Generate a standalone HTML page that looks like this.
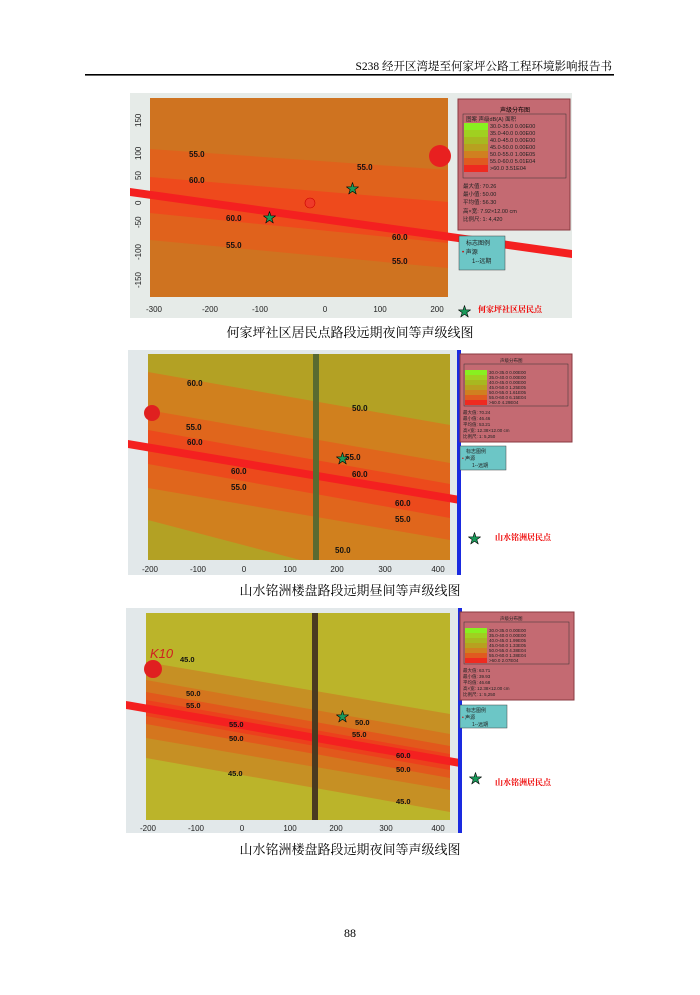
<!DOCTYPE html>
<html><head><meta charset="utf-8"><style>
body{margin:0;background:#fff;}
svg text{font-family:"Liberation Serif","Noto Serif CJK SC",serif;}
svg .s text, svg text.s{font-family:"Liberation Sans","Noto Sans CJK SC",sans-serif;}
</style></head><body>
<svg width="700" height="990" viewBox="0 0 700 990" xmlns="http://www.w3.org/2000/svg">
<rect width="700" height="990" fill="#fff"/>
<text x="612" y="70" font-size="11.5" text-anchor="end">S238 经开区湾堤至何家坪公路工程环境影响报告书</text>
<rect x="85" y="74" width="529" height="1.6" fill="#000"/>

<!-- Chart 1 -->
<rect x="130" y="93" width="442" height="225" fill="#e6ebe8"/>
<rect x="150" y="98" width="298" height="199" fill="#cf7320"/>
<polygon points="150,149 448,170 448,268 150,240" fill="#e0621c"/>
<polygon points="150,177 448,202 448,243 150,213" fill="#ee4a1c"/>
<polygon points="130,188 572,250 572,258 130,196" fill="#f42020"/>
<circle cx="440" cy="156" r="11" fill="#e82020"/>
<circle cx="310" cy="203" r="5" fill="#ee3a2a" stroke="#c00" stroke-width="0.6"/>
<g class="s" font-size="8" fill="#111" font-weight="bold">
<text x="189" y="157">55.0</text><text x="189" y="183">60.0</text><text x="226" y="221">60.0</text>
<text x="226" y="248">55.0</text><text x="357" y="170">55.0</text><text x="392" y="240">60.0</text><text x="392" y="264">55.0</text></g>
<g class="s" font-size="8" fill="#222" text-anchor="middle">
<text x="154" y="312">-300</text><text x="210" y="312">-200</text><text x="260" y="312">-100</text><text x="325" y="312">0</text><text x="380" y="312">100</text><text x="437" y="312">200</text></g>
<g class="s" font-size="8" fill="#222">
<text transform="translate(141,127) rotate(-90)">150</text><text transform="translate(141,160) rotate(-90)">100</text>
<text transform="translate(141,180) rotate(-90)">50</text><text transform="translate(141,205) rotate(-90)">0</text>
<text transform="translate(141,228) rotate(-90)">-50</text><text transform="translate(141,260) rotate(-90)">-100</text>
<text transform="translate(141,288) rotate(-90)">-150</text></g>
<text x="263" y="222" font-size="13" fill="#1a9a5a" stroke="#000" stroke-width="0.6">★</text>
<text x="346" y="193" font-size="13" fill="#1a9a5a" stroke="#000" stroke-width="0.6">★</text>
<rect x="458" y="99" width="112" height="131" fill="#c46a72" stroke="#8a3a40"/>
<text x="500" y="112" font-size="6" class="s">声级分布图</text>
<g stroke="#333" stroke-width="0.5" fill="none"><rect x="463" y="114" width="103" height="64"/></g>
<rect x="464" y="123" width="24" height="7" fill="#88f020"/><rect x="464" y="130" width="24" height="7" fill="#a0d020"/>
<rect x="464" y="137" width="24" height="7" fill="#a8b820"/><rect x="464" y="144" width="24" height="7" fill="#b8a020"/>
<rect x="464" y="151" width="24" height="7" fill="#d08020"/><rect x="464" y="158" width="24" height="7" fill="#e05a20"/>
<rect x="464" y="165" width="24" height="7" fill="#ee2a20"/>
<g class="s" font-size="5.5" fill="#222"><text x="466" y="121">图案  声级dB(A)  面积</text>
<text x="490" y="128">30.0-35.0 0.00E00</text><text x="490" y="135">35.0-40.0 0.00E00</text><text x="490" y="142">40.0-45.0 0.00E00</text>
<text x="490" y="149">45.0-50.0 0.00E00</text><text x="490" y="156">50.0-55.0 1.00E05</text><text x="490" y="163">55.0-60.0 5.01E04</text>
<text x="490" y="170">  >60.0  3.51E04</text>
<text x="463" y="188">最大值: 70.26</text><text x="463" y="196">最小值: 50.00</text><text x="463" y="204">平均值: 56.30</text>
<text x="463" y="213">高×宽: 7.92×12.00 cm</text><text x="463" y="221">比例尺: 1: 4,420</text></g>
<rect x="459" y="236" width="46" height="34" fill="#6cc6c6" stroke="#444" stroke-width="0.5"/>
<g class="s" font-size="6" fill="#222"><text x="466" y="245">标志图例</text><text x="462" y="254"><tspan fill="#c00">•</tspan> 声源</text><text x="472" y="263">1--远期</text></g>
<text x="458" y="316" font-size="13" fill="#1a9a5a" stroke="#000" stroke-width="0.6">★</text>
<text x="478" y="312" font-size="8" fill="#e00" font-weight="bold">何家坪社区居民点</text>
<text x="350" y="337" font-size="13" text-anchor="middle">何家坪社区居民点路段远期夜间等声级线图</text>

<!-- Chart 2 -->
<rect x="128" y="350" width="332" height="225" fill="#e2e8ea"/>
<rect x="148" y="354" width="302" height="206" fill="#b3a124"/>
<polygon points="148,372 450,425 450,560 300,560 148,520" fill="#d0801e"/>
<polygon points="148,410 450,463 450,540 148,488" fill="#e0661c"/>
<polygon points="148,430 450,484 450,518 148,464" fill="#ec4a1c"/>
<polygon points="128,440 460,496 460,504 128,448" fill="#f42020"/>
<rect x="313" y="354" width="6" height="206" fill="#5a6a30"/>
<circle cx="152" cy="413" r="8" fill="#e02020"/>
<g class="s" font-size="8" fill="#111" font-weight="bold">
<text x="187" y="386">60.0</text><text x="186" y="430">55.0</text><text x="187" y="445">60.0</text><text x="231" y="474">60.0</text>
<text x="231" y="490">55.0</text><text x="352" y="411">50.0</text><text x="345" y="460">55.0</text><text x="352" y="477">60.0</text>
<text x="395" y="506">60.0</text><text x="395" y="522">55.0</text><text x="335" y="553">50.0</text></g>
<g class="s" font-size="8" fill="#222" text-anchor="middle">
<text x="150" y="572">-200</text><text x="198" y="572">-100</text><text x="244" y="572">0</text><text x="290" y="572">100</text><text x="337" y="572">200</text><text x="385" y="572">300</text><text x="438" y="572">400</text></g>
<text x="336" y="463" font-size="13" fill="#1a9a5a" stroke="#000" stroke-width="0.6">★</text>
<rect x="457" y="350" width="4" height="225" fill="#1a2ae0"/>
<rect x="460" y="354" width="112" height="88" fill="#c46a72" stroke="#8a3a40"/>
<rect x="465" y="370" width="22" height="5" fill="#88f020"/><rect x="465" y="375" width="22" height="5" fill="#a0d020"/>
<rect x="465" y="380" width="22" height="5" fill="#a8b820"/><rect x="465" y="385" width="22" height="5" fill="#b8a020"/>
<rect x="465" y="390" width="22" height="5" fill="#d08020"/><rect x="465" y="395" width="22" height="5" fill="#e05a20"/>
<rect x="465" y="400" width="22" height="5" fill="#ee2a20"/>
<rect x="464" y="364" width="104" height="42" fill="none" stroke="#333" stroke-width="0.5"/>
<g class="s" font-size="4.5" fill="#222"><text x="500" y="362">声级分布图</text>
<text x="489" y="374">30.0-35.0 0.00E00</text><text x="489" y="379">35.0-40.0 0.00E00</text><text x="489" y="384">40.0-45.0 0.00E00</text>
<text x="489" y="389">45.0-50.0 1.25E05</text><text x="489" y="394">50.0-55.0 1.61E05</text><text x="489" y="399">55.0-60.0 6.15E04</text>
<text x="489" y="404">  >60.0  4.29E04</text>
<text x="463" y="414">最大值: 70.24</text><text x="463" y="420">最小值: 46.46</text><text x="463" y="426">平均值: 53.21</text>
<text x="463" y="432">高×宽: 12.38×12.00 cm</text><text x="463" y="438">比例尺: 1: 5,250</text></g>
<rect x="460" y="446" width="46" height="24" fill="#6cc6c6" stroke="#444" stroke-width="0.5"/>
<g class="s" font-size="5" fill="#222"><text x="466" y="453">标志图例</text><text x="462" y="460"><tspan fill="#c00">•</tspan> 声源</text><text x="472" y="467">1--远期</text></g>
<text x="468" y="543" font-size="13" fill="#1a9a5a" stroke="#000" stroke-width="0.6">★</text>
<text x="495" y="540" font-size="8" fill="#e00" font-weight="bold">山水铭洲居民点</text>
<text x="350" y="595" font-size="13" text-anchor="middle">山水铭洲楼盘路段远期昼间等声级线图</text>

<!-- Chart 3 -->
<rect x="126" y="608" width="334" height="225" fill="#e2e8ea"/>
<rect x="146" y="613" width="304" height="207" fill="#bbb42a"/>
<polygon points="146,662 450,714 450,812 146,758" fill="#c69024"/>
<polygon points="146,680 450,734 450,790 146,738" fill="#d4761e"/>
<polygon points="146,692 450,746 450,778 146,724" fill="#e2581c"/>
<polygon points="146,700 450,754 450,770 146,716" fill="#ec401c"/>
<polygon points="126,701 460,759 460,767 126,709" fill="#f42020"/>
<rect x="312" y="613" width="6" height="207" fill="#4a3a20"/>
<circle cx="153" cy="669" r="9" fill="#e02020"/>
<text x="150" y="658" font-size="13" fill="#d02020" font-style="italic" class="s">K10</text>
<g class="s" font-size="7.5" fill="#111" font-weight="bold">
<text x="180" y="662">45.0</text><text x="186" y="696">50.0</text><text x="186" y="708">55.0</text>
<text x="229" y="727">55.0</text><text x="229" y="741">50.0</text><text x="228" y="776">45.0</text>
<text x="355" y="725">50.0</text><text x="352" y="737">55.0</text><text x="396" y="758">60.0</text><text x="396" y="772">50.0</text><text x="396" y="804">45.0</text></g>
<g class="s" font-size="8" fill="#222" text-anchor="middle">
<text x="148" y="831">-200</text><text x="196" y="831">-100</text><text x="242" y="831">0</text><text x="290" y="831">100</text><text x="336" y="831">200</text><text x="386" y="831">300</text><text x="438" y="831">400</text></g>
<text x="336" y="721" font-size="13" fill="#1a9a5a" stroke="#000" stroke-width="0.6">★</text>
<rect x="458" y="608" width="4" height="225" fill="#1a2ae0"/>
<rect x="460" y="612" width="114" height="88" fill="#c46a72" stroke="#8a3a40"/>
<rect x="465" y="628" width="22" height="5" fill="#88f020"/><rect x="465" y="633" width="22" height="5" fill="#a0d020"/>
<rect x="465" y="638" width="22" height="5" fill="#a8b820"/><rect x="465" y="643" width="22" height="5" fill="#b8a020"/>
<rect x="465" y="648" width="22" height="5" fill="#d08020"/><rect x="465" y="653" width="22" height="5" fill="#e05a20"/>
<rect x="465" y="658" width="22" height="5" fill="#ee2a20"/>
<rect x="464" y="622" width="105" height="42" fill="none" stroke="#333" stroke-width="0.5"/>
<g class="s" font-size="4.5" fill="#222"><text x="500" y="620">声级分布图</text>
<text x="489" y="632">30.0-35.0 0.00E00</text><text x="489" y="637">35.0-40.0 0.00E00</text><text x="489" y="642">40.0-45.0 1.99E05</text>
<text x="489" y="647">45.0-50.0 1.33E05</text><text x="489" y="652">50.0-55.0 4.38E04</text><text x="489" y="657">55.0-60.0 1.38E04</text>
<text x="489" y="662">  >60.0  2.07E04</text>
<text x="463" y="672">最大值: 63.71</text><text x="463" y="678">最小值: 39.93</text><text x="463" y="684">平均值: 46.68</text>
<text x="463" y="690">高×宽: 12.38×12.00 cm</text><text x="463" y="696">比例尺: 1: 5,250</text></g>
<rect x="460" y="705" width="47" height="23" fill="#6cc6c6" stroke="#444" stroke-width="0.5"/>
<g class="s" font-size="5" fill="#222"><text x="466" y="712">标志图例</text><text x="462" y="719"><tspan fill="#c00">•</tspan> 声源</text><text x="472" y="726">1--远期</text></g>
<text x="469" y="783" font-size="13" fill="#1a9a5a" stroke="#000" stroke-width="0.6">★</text>
<text x="495" y="785" font-size="8" fill="#e00" font-weight="bold">山水铭洲居民点</text>
<text x="350" y="854" font-size="13" text-anchor="middle">山水铭洲楼盘路段远期夜间等声级线图</text>

<text x="350" y="937" font-size="12" text-anchor="middle">88</text>
</svg>
</body></html>
